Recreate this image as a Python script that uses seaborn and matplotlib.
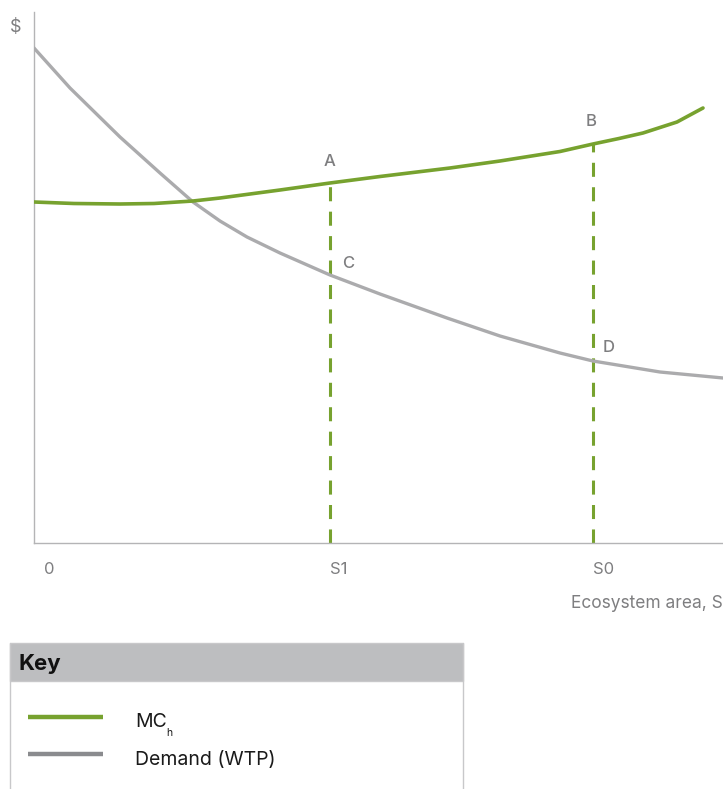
import matplotlib
matplotlib.use("Agg")
import matplotlib.pyplot as plt
import matplotlib.transforms as mtransforms
from matplotlib.patches import Rectangle
import seaborn as sns
import pandas as pd

# Ecosystem area (horizontal units) and the two schedules
area = [0, 36, 86, 126, 159, 186, 213, 246, 296, 346, 413, 466, 526, 559, 626, 689]
demand = [495, 455, 406, 370, 341, 322, 306, 290, 268, 249, 225, 207, 190, 182, 171, 165]
mc_area = [0, 40, 86, 120, 159, 186, 246, 296, 346, 416, 466, 526, 559, 585, 609, 643, 669]
mc_h = [341, 339.5, 339, 339.5, 342, 345, 353, 360, 366.5, 375, 382, 391.5, 399, 404.5, 410, 421, 435]

S1, S0 = 296, 559
tick_pos = [0, S1, S0]
tick_labels = ["0", "S1", "S0"]
point_names = ["A", "B", "C", "D"]

GREEN = "#77A22F"
GREY_LINE = "#ABABAD"
GREY_TEXT = "#7E7E80"

sns.set_style("white")
plt.rcParams["font.family"] = ["Inter", "DejaVu Sans"]

W, H = 723, 789
fig = plt.figure(figsize=(W / 100, H / 100), dpi=100)
ax = fig.add_axes([34 / W, 246 / H, 689 / W, 531 / H])

df_d = pd.DataFrame({"area": area, "value": demand})
df_m = pd.DataFrame({"area": mc_area, "value": mc_h})

mc_s1 = mc_h[mc_area.index(S1)]
mc_s0 = mc_h[mc_area.index(S0)]
d_s1 = demand[area.index(S1)]
d_s0 = demand[area.index(S0)]

# dashed drop lines from MC_h down to the axis
for xv, top in [(S1, mc_s1), (S0, mc_s0)]:
    ax.plot([xv, xv], [0, top], color=GREEN, lw=2.2,
            linestyle=(0, (4.6, 3.4)), solid_capstyle="butt", zorder=2)

sns.lineplot(data=df_d, x="area", y="value", ax=ax, color=GREY_LINE, lw=2.4,
             solid_capstyle="round", solid_joinstyle="round", zorder=3)
sns.lineplot(data=df_m, x="area", y="value", ax=ax, color=GREEN, lw=2.6,
             solid_capstyle="round", solid_joinstyle="round", zorder=4)

ax.set_xlim(0, 689)
ax.set_ylim(0, 531)
ax.set_xlabel("")
ax.set_ylabel("")
ax.set_yticks([])
ax.set_xticks(tick_pos)
ax.set_xticklabels(tick_labels, ha="left", color=GREY_TEXT, fontsize=12)
ax.tick_params(axis="x", length=0, pad=14)
zero_lbl = ax.get_xticklabels()[0]
zero_lbl.set_transform(zero_lbl.get_transform()
                       + mtransforms.ScaledTranslation(10 / 100, 0, fig.dpi_scale_trans))
for side in ["top", "right"]:
    ax.spines[side].set_visible(False)
for side in ["left", "bottom"]:
    ax.spines[side].set_color("#B4B4B6")
    ax.spines[side].set_linewidth(1.0)

lbl_kw = dict(color=GREY_TEXT, fontsize=12, fontweight="medium", ha="center", va="center")
ax.text(S1, mc_s1 + 22, point_names[0], **lbl_kw)
ax.text(S0 - 2, mc_s0 + 23, point_names[1], **lbl_kw)
ax.text(S1 + 18, d_s1 + 12, point_names[2], **lbl_kw)
ax.text(S0 + 16, d_s0 + 14, point_names[3], **lbl_kw)

# overlay in pixel coordinates for axis captions and the key
ov = fig.add_axes([0, 0, 1, 1], zorder=-1)
ov.set_xlim(0, W)
ov.set_ylim(H, 0)
ov.axis("off")
ov.patch.set_alpha(0)

ov.text(16, 27, "$", color=GREY_TEXT, fontsize=13, ha="center", va="center")
ov.text(723, 603, "Ecosystem area, S", color=GREY_TEXT, fontsize=12.5, ha="right", va="center")

ov.add_patch(Rectangle((10, 643), 453, 38, facecolor="#BDBEC0", edgecolor="#C8C8CA", lw=1.0))
ov.plot([10, 10], [643, 789], color="#C8C8CA", lw=1.0)
ov.plot([463, 463], [643, 789], color="#C8C8CA", lw=1.0)
ov.text(18, 664, "Key", color="#111111", fontsize=16, fontweight="bold", ha="left", va="center")

ov.plot([28, 103], [717, 717], color=GREEN, lw=3.2, solid_capstyle="butt")
ov.plot([28, 103], [754, 754], color="#8A8B8E", lw=3.2, solid_capstyle="butt")
ov.text(135, 722, "MC", color="#1A1A1A", fontsize=14, ha="left", va="center")
ov.text(166, 733, "h", color="#1A1A1A", fontsize=7.5, ha="left", va="center")
ov.text(135, 760, "Demand (WTP)", color="#1A1A1A", fontsize=14, ha="left", va="center")

fig.savefig("out.png", dpi=100)
